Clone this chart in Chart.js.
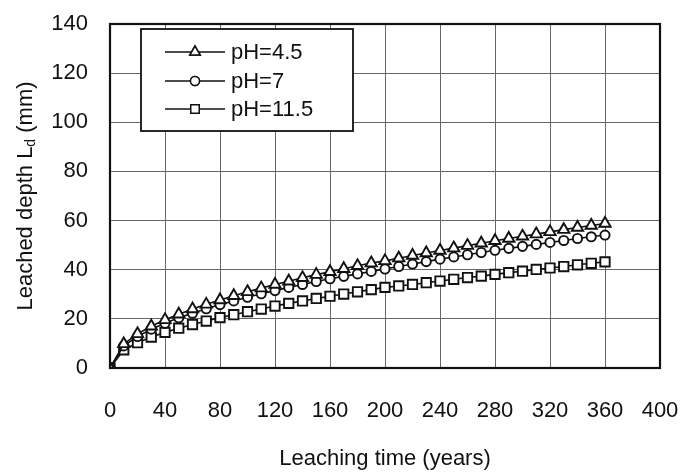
<!DOCTYPE html>
<html>
<head>
<meta charset="utf-8">
<script src="https://cdn.jsdelivr.net/npm/chart.js@4/dist/chart.umd.min.js"></script>
<style>
  html, body { margin: 0; padding: 0; background: #fff; }
  #c { display: block; }
</style>
</head>
<body>
<canvas id="c" width="689" height="472"></canvas>
<script>
// leaching time (years) and leached depth Ld (mm)
const years = [0, 10, 20, 30, 40, 50, 60, 70, 80, 90, 100, 110, 120, 130, 140, 150, 160, 170, 180,
  190, 200, 210, 220, 230, 240, 250, 260, 270, 280, 290, 300, 310, 320, 330, 340, 350, 360];
const ph45 = [0, 9.8, 13.9, 17.0, 19.6, 21.9, 24.0, 25.9, 27.7, 29.4, 31.0, 32.5, 34.0, 35.3, 36.7,
  38.0, 39.2, 40.4, 41.6, 42.7, 43.6, 44.7, 45.8, 46.8, 47.8, 48.8, 49.8, 50.8, 51.8, 52.7, 53.6,
  54.5, 55.4, 56.3, 57.2, 58.0, 58.8];
const ph7 = [0, 9.0, 12.8, 15.8, 18.2, 20.4, 22.3, 24.1, 25.8, 27.3, 28.8, 30.2, 31.5, 32.8, 34.0,
  35.2, 36.3, 37.3, 38.3, 39.3, 40.3, 41.3, 42.3, 43.3, 44.3, 45.2, 46.1, 47.0, 47.9, 48.7, 49.5,
  50.3, 51.1, 51.9, 52.7, 53.4, 54.1];
const ph115 = [0, 7.4, 10.3, 12.6, 14.5, 16.2, 17.7, 19.1, 20.5, 21.7, 22.9, 24.0, 25.2, 26.3, 27.3,
  28.3, 29.2, 30.1, 31.0, 31.9, 32.8, 33.4, 34.0, 34.7, 35.4, 36.1, 36.8, 37.4, 38.1, 38.8, 39.4,
  40.1, 40.7, 41.3, 42.0, 42.6, 43.2];
const seriesNames = ['pH=4.5', 'pH=7', 'pH=11.5'];
const xTicks = [0, 40, 80, 120, 160, 200, 240, 280, 320, 360, 400];
const yTicks = [0, 20, 40, 60, 80, 100, 120, 140];

const FONT = "'Liberation Sans', Arial, sans-serif";
const INK = '#111';

function pts(vals) { return years.map((t, i) => ({ x: t, y: vals[i] })); }
function ds(label, vals, style, r) {
  return {
    label: label, data: pts(vals),
    borderColor: INK, borderWidth: 1.6,
    pointStyle: style, pointRadius: r,
    pointBackgroundColor: '#fff', pointBorderColor: INK, pointBorderWidth: 1.9,
    tension: 0
  };
}

// frame around plot, boxed legend inside, y title with subscript
const extras = {
  id: 'extras',
  afterDraw(chart) {
    const ctx = chart.ctx, a = chart.chartArea;
    ctx.save();
    ctx.strokeStyle = INK; ctx.lineWidth = 2.2;
    ctx.strokeRect(a.left, a.top, a.right - a.left, a.bottom - a.top);

    // legend
    const bx = 141, by = 29, bw = 212, bh = 102;
    ctx.fillStyle = '#fff';
    ctx.fillRect(bx, by, bw, bh);
    ctx.lineWidth = 1.8;
    ctx.strokeRect(bx, by, bw, bh);
    const rows = [52, 81, 109];
    const lr = [6, 4.5, 6];
    chart.data.datasets.forEach((d, i) => {
      const y = rows[i];
      ctx.strokeStyle = INK; ctx.lineWidth = 1.5;
      ctx.beginPath(); ctx.moveTo(165, y); ctx.lineTo(225, y); ctx.stroke();
      ctx.fillStyle = '#fff';
      Chart.helpers.drawPoint(ctx, { pointStyle: d.pointStyle, radius: lr[i], borderWidth: 1.5 }, 195, y);
      ctx.fill(); ctx.stroke();
      ctx.fillStyle = INK;
      ctx.font = '22px ' + FONT;
      ctx.textBaseline = 'middle'; ctx.textAlign = 'left';
      ctx.fillText(d.label, 231, y + 1);
    });

    // y axis title with subscript d
    ctx.translate(26, (a.top + a.bottom) / 2);
    ctx.rotate(-Math.PI / 2);
    ctx.fillStyle = INK;
    ctx.textBaseline = 'middle'; ctx.textAlign = 'left';
    const p1 = 'Leached depth L', p2 = 'd', p3 = ' (mm)';
    ctx.font = '22px ' + FONT; const w1 = ctx.measureText(p1).width, w3 = ctx.measureText(p3).width;
    ctx.font = '14px ' + FONT; const w2 = ctx.measureText(p2).width;
    let x = -(w1 + w2 + w3) / 2;
    ctx.font = '22px ' + FONT; ctx.fillText(p1, x, 0); x += w1;
    ctx.font = '14px ' + FONT; ctx.fillText(p2, x, 5); x += w2;
    ctx.font = '22px ' + FONT; ctx.fillText(p3, x, 0);
    ctx.restore();
  }
};

new Chart(document.getElementById('c'), {
  type: 'line',
  data: {
    datasets: [
      ds(seriesNames[0], ph45, 'triangle', 6.5),
      ds(seriesNames[1], ph7, 'circle', 4.6),
      ds(seriesNames[2], ph115, 'rect', 6.6)
    ]
  },
  options: {
    responsive: false,
    animation: false,
    layout: { padding: { left: 0, right: 29, top: 24, bottom: 0 } },
    plugins: { legend: { display: false }, tooltip: { enabled: false } },
    scales: {
      x: {
        type: 'linear', min: 0, max: 400,
        afterBuildTicks(s) { s.ticks = xTicks.map(v => ({ value: v })); },
        afterFit(s) { s.height = 104; s.paddingLeft = 0; s.paddingRight = 0; },
        grid: { color: '#666', lineWidth: 1, drawTicks: false },
        border: { display: false },
        ticks: { color: INK, font: { family: FONT, size: 22 }, padding: 30, maxRotation: 0, autoSkip: false },
        title: { display: true, text: 'Leaching time (years)', color: INK,
                 font: { family: FONT, size: 22 }, padding: { top: 14, bottom: 0 } }
      },
      y: {
        type: 'linear', min: 0, max: 140,
        afterBuildTicks(s) { s.ticks = yTicks.map(v => ({ value: v })); },
        afterFit(s) { s.width = 110; s.paddingTop = 0; s.paddingBottom = 0; },
        grid: { color: '#666', lineWidth: 1, drawTicks: false },
        border: { display: false },
        ticks: { color: INK, font: { family: FONT, size: 22 }, padding: 22 }
      }
    }
  },
  plugins: [extras]
});
</script>
</body>
</html>
